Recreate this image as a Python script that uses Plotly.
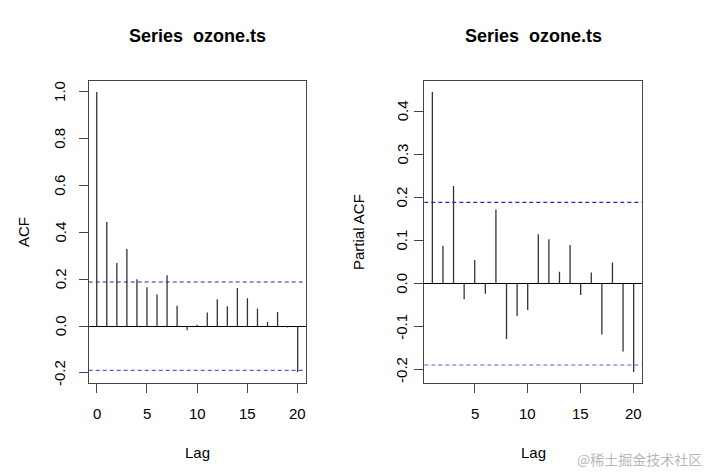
import plotly.graph_objects as go

# ---- data ----
acf_lags = list(range(0, 21))
acf_vals = [1.000, 0.445, 0.270, 0.329, 0.200, 0.166, 0.135, 0.217, 0.087, -0.018,
            0.006, 0.058, 0.115, 0.085, 0.163, 0.119, 0.075, 0.018, 0.060, -0.006, -0.196]
pacf_lags = list(range(1, 21))
pacf_vals = [0.445, 0.088, 0.227, -0.036, 0.055, -0.023, 0.172, -0.128, -0.075, -0.061,
             0.115, 0.103, 0.028, 0.090, -0.026, 0.026, -0.118, 0.049, -0.157, -0.205]
ci = 0.1886
acf_yticks = [-0.2, 0.0, 0.2, 0.4, 0.6, 0.8, 1.0]
acf_xticks = [0, 5, 10, 15, 20]
pacf_yticks = [-0.2, -0.1, 0.0, 0.1, 0.2, 0.3, 0.4]
pacf_xticks = [5, 10, 15, 20]
title_text = "Series\u00a0 ozone.ts"

W, H = 712, 473
FONT = "Liberation Sans, Arial, Helvetica, sans-serif"

def stems(lags, vals):
    xs, ys = [], []
    for l, v in zip(lags, vals):
        xs += [l, l, None]
        ys += [0, v, None]
    return xs, ys

fig = go.Figure()
x1, y1 = stems(acf_lags, acf_vals)
fig.add_trace(go.Scatter(x=x1, y=y1, mode="lines", line=dict(color="#333", width=1.3),
                         xaxis="x", yaxis="y", hoverinfo="skip", showlegend=False))
x2, y2 = stems(pacf_lags, pacf_vals)
fig.add_trace(go.Scatter(x=x2, y=y2, mode="lines", line=dict(color="#333", width=1.3),
                         xaxis="x2", yaxis="y2", hoverinfo="skip", showlegend=False))

def px_x(p):
    return p / W
def px_y(p):
    return 1 - p / H

ydom = [px_y(383.3), px_y(80.7)]
axis_common = dict(showline=True, mirror=True, linecolor="#444", linewidth=1,
                   ticks="outside", ticklen=9, tickcolor="#444", tickwidth=1,
                   showgrid=False, showticklabels=False)

fig.update_layout(
    width=W, height=H, margin=dict(l=0, r=0, t=0, b=0),
    paper_bgcolor="white", plot_bgcolor="white",
    hovermode=False, dragmode=False, showlegend=False,
    xaxis=dict(domain=[px_x(88.7), px_x(305.7)], range=[-0.8, 20.8], anchor="y",
               tickvals=acf_xticks, zeroline=False, **axis_common),
    yaxis=dict(domain=ydom, range=[-0.244, 1.048], anchor="x",
               tickvals=acf_yticks, zeroline=True, zerolinecolor="black", zerolinewidth=1,
               **axis_common),
    xaxis2=dict(domain=[px_x(424.3), px_x(641.7)], range=[0.24, 20.76], anchor="y2",
                tickvals=pacf_xticks, zeroline=False, **axis_common),
    yaxis2=dict(domain=ydom, range=[-0.231, 0.471], anchor="x2",
                tickvals=pacf_yticks, zeroline=True, zerolinecolor="black", zerolinewidth=1,
                **axis_common),
)

shapes = []
for xr, yr in [("x domain", "y"), ("x2 domain", "y2")]:
    for v, col in ((ci, "#2a2aa8"), (-ci, "#5a5ae6")):
        shapes.append(dict(type="line", xref=xr, yref=yr, x0=0, x1=1, y0=v, y1=v,
                           line=dict(color=col, width=1.2, dash="4px,3px")))
fig.update_layout(shapes=shapes)

tickfont = dict(family=FONT, size=15, color="black")
ann = []
# tick labels placed on the axes' own data scales
for xref, ticks in (("x", acf_xticks), ("x2", pacf_xticks)):
    for t in ticks:
        ann.append(dict(text=str(t), x=t, xref=xref, y=px_y(413), yref="paper",
                        showarrow=False, font=tickfont, xanchor="center", yanchor="middle"))
for yref, xpos, ticks in (("y", 60, acf_yticks), ("y2", 402, pacf_yticks)):
    for t in ticks:
        ann.append(dict(text=f"{t:.1f}", x=xpos / W, xref="paper", y=t, yref=yref,
                        textangle=-90, showarrow=False, font=tickfont,
                        xanchor="center", yanchor="middle"))
for cx in (197.2, 533.0):
    ann.append(dict(text="<b>" + title_text + "</b>", x=cx / W, y=px_y(36), xref="paper", yref="paper",
                    showarrow=False, font=dict(family=FONT, size=18, color="black"),
                    xanchor="center", yanchor="middle"))
    ann.append(dict(text="Lag", x=cx / W, y=px_y(452), xref="paper", yref="paper",
                    showarrow=False, font=dict(family=FONT, size=15, color="black"),
                    xanchor="center", yanchor="middle"))
ann.append(dict(text="ACF", x=23 / W, y=px_y(232), xref="paper", yref="paper", textangle=-90,
                showarrow=False, font=dict(family=FONT, size=15, color="black"),
                xanchor="center", yanchor="middle"))
ann.append(dict(text="Partial ACF", x=358 / W, y=px_y(232), xref="paper", yref="paper", textangle=-90,
                showarrow=False, font=dict(family=FONT, size=15, color="black"),
                xanchor="center", yanchor="middle"))
ann.append(dict(text="@稀土掘金技术社区", x=639 / W, y=px_y(459), xref="paper", yref="paper",
                showarrow=False, font=dict(family="Noto Sans CJK SC", size=14, color="#b8b8b8"),
                xanchor="center", yanchor="middle"))
fig.update_layout(annotations=ann)

fig.write_html("out.html", config={"displayModeBar": False, "staticPlot": True},
               post_script="document.body.style.margin='0';document.body.style.overflow='hidden';")
